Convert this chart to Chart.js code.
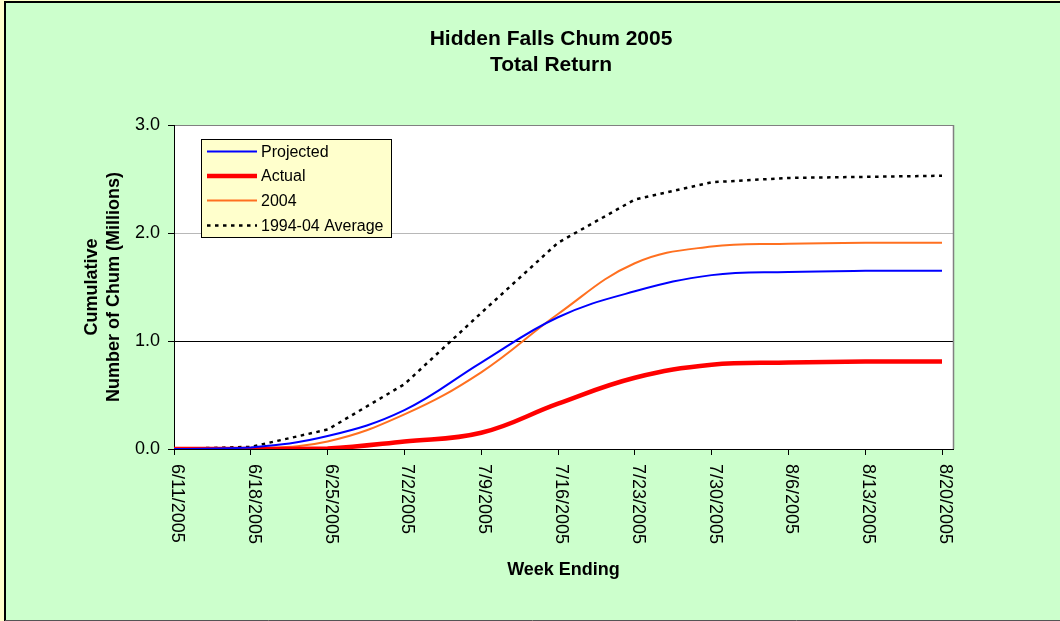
<!DOCTYPE html>
<html>
<head>
<meta charset="utf-8">
<script src="https://cdn.jsdelivr.net/npm/chart.js@4"></script>
<style>
  html, body { margin: 0; padding: 0; background: #ffffcc; }
  #wrap { width: 1060px; height: 621px; }
</style>
</head>
<body>
<div id="wrap"><canvas id="chumChart" width="1060" height="621"></canvas></div>
<script>
// === data ===
const weekLabels = ["6/11/2005", "6/18/2005", "6/25/2005", "7/2/2005", "7/9/2005", "7/16/2005",
    "7/23/2005", "7/30/2005", "8/6/2005", "8/13/2005", "8/20/2005"];
const weekDays = [0, 7, 14, 21, 28, 35, 42, 49, 56, 63, 70]; // days after 6/11
const projected = [0, 0.015, 0.12, 0.36, 0.80, 1.22, 1.46, 1.61, 1.64, 1.65, 1.65];
const actual = [0, 0, 0.005, 0.07, 0.15, 0.42, 0.66, 0.78, 0.80, 0.81, 0.81];
const year2004 = [0, 0.005, 0.07, 0.32, 0.71, 1.25, 1.72, 1.875, 1.90, 1.91, 1.91];
const average = [0, 0.02, 0.18, 0.60, 1.26, 1.91, 2.31, 2.47, 2.51, 2.52, 2.53];
const yTicks = [0, 1, 2, 3];

const pts = arr => arr.map((v, i) => ({ x: weekDays[i], y: v }));
const FONT = "'Liberation Sans', Arial, sans-serif";

// === background, frame, custom x labels and legend ===
const framePlugin = {
    id: "frame",
    beforeDraw(chart) {
        const { ctx, chartArea: a } = chart;
        ctx.save();
        ctx.fillStyle = "#ffffcc";
        ctx.fillRect(0, 0, chart.width, chart.height);
        ctx.fillStyle = "#ccffcc";
        ctx.fillRect(5, 2, chart.width - 5, 618);
        ctx.strokeStyle = "#000";
        ctx.lineWidth = 2;
        ctx.beginPath();
        ctx.moveTo(5, chart.height);
        ctx.lineTo(5, 2);
        ctx.lineTo(chart.width, 2);
        ctx.stroke();
        ctx.strokeStyle = "#555";
        ctx.lineWidth = 1;
        ctx.beginPath();
        ctx.moveTo(5, 620.5);
        ctx.lineTo(chart.width, 620.5);
        ctx.stroke();
        ctx.fillStyle = "#fff";
        ctx.fillRect(a.left, a.top, a.right - a.left, a.bottom - a.top);
        ctx.restore();
    },
    beforeDatasetsDraw(chart) {
        const { ctx, chartArea: a } = chart;
        ctx.save();
        ctx.strokeStyle = "#808080";
        ctx.lineWidth = 1.5;
        ctx.beginPath();
        ctx.moveTo(a.right + 0.5, a.top);
        ctx.lineTo(a.right + 0.5, a.bottom);
        ctx.stroke();
        ctx.restore();
    },
    afterDraw(chart) {
        const { ctx } = chart;
        const xs = chart.scales.x;
        ctx.save();
        // rotated week labels, reading top to bottom
        ctx.fillStyle = "#000";
        ctx.font = "18px " + FONT;
        ctx.textAlign = "left";
        ctx.textBaseline = "alphabetic";
        weekLabels.forEach((lab, i) => {
            const px = xs.getPixelForValue(weekDays[i]);
            ctx.save();
            ctx.translate(px - 2, 464);
            ctx.rotate(Math.PI / 2);
            ctx.fillText(lab, 0, 0);
            ctx.restore();
        });

        // legend box
        const bx = 201.5, by = 139.5, bw = 190, bh = 98;
        ctx.fillStyle = "#ffffcc";
        ctx.fillRect(bx, by, bw, bh);
        ctx.strokeStyle = "#000";
        ctx.lineWidth = 1;
        ctx.strokeRect(bx, by, bw, bh);
        const rows = [151.5, 176, 200.5, 225.5];
        ctx.font = "16px " + FONT;
        ctx.textBaseline = "middle";
        chart.data.datasets.forEach((ds, i) => {
            const y = rows[i];
            ctx.save();
            ctx.strokeStyle = ds.borderColor;
            ctx.lineWidth = ds.borderWidth;
            ctx.setLineDash(ds.borderDash || []);
            ctx.beginPath();
            ctx.moveTo(207, y);
            ctx.lineTo(257, y);
            ctx.stroke();
            ctx.restore();
            ctx.fillStyle = "#000";
            ctx.fillText(ds.label, 261, y + 1);
        });
        ctx.restore();
    }
};

const ctx = document.getElementById("chumChart").getContext("2d");
new Chart(ctx, {
    type: "line",
    data: {
        datasets: [
            { label: "Projected", data: pts(projected), borderColor: "#0000ff", borderWidth: 2, tension: 0.4 },
            { label: "Actual", data: pts(actual), borderColor: "#ff0000", borderWidth: 4.5, tension: 0.4 },
            { label: "2004", data: pts(year2004), borderColor: "#ff7020", borderWidth: 2, tension: 0.4 },
            { label: "1994-04 Average", data: pts(average), borderColor: "#000000", borderWidth: 2.5,
              borderDash: [3.5, 4.5], tension: 0 }
        ]
    },
    options: {
        responsive: false,
        animation: false,
        layout: { padding: { left: 42, top: 0, right: 0, bottom: 0 } },
        elements: { point: { radius: 0 } },
        plugins: {
            legend: { display: false },
            tooltip: { enabled: false },
            title: {
                display: true,
                text: ["Hidden Falls Chum 2005", "Total Return"],
                color: "#000",
                font: { family: FONT, size: 21, weight: "bold", lineHeight: 26 / 21 },
                padding: { top: 26, bottom: 47 }
            }
        },
        scales: {
            x: {
                type: "linear",
                min: 0,
                max: 71,
                afterBuildTicks: s => { s.ticks = weekDays.map(v => ({ value: v })); },
                afterFit: s => { s.height = 172; },
                ticks: { display: false },
                grid: { drawOnChartArea: false, drawTicks: true, tickLength: 6, tickColor: "#000" },
                border: { color: "#000", width: 1 },
                title: {
                    display: true,
                    text: "Week Ending",
                    color: "#000",
                    font: { family: FONT, size: 18, weight: "bold", lineHeight: 1.2 },
                    padding: { top: 0, bottom: 40.5 }
                }
            },
            y: {
                min: 0,
                max: 3,
                afterBuildTicks: s => { s.ticks = yTicks.map(v => ({ value: v })); },
                afterFit: s => { s.width = 132; },
                ticks: {
                    color: "#000",
                    padding: 8,
                    font: { family: FONT, size: 18 },
                    callback: v => v.toFixed(1)
                },
                grid: {
                    color: c => c.tick.value === 2 ? "#b8b8b8" : c.tick.value === 3 ? "#808080" : "#000",
                    tickLength: 6,
                    tickColor: "#000",
                    lineWidth: 1
                },
                border: { color: "#000", width: 1 },
                title: {
                    display: true,
                    text: ["Cumulative", "Number of Chum (Millions)"],
                    color: "#000",
                    font: { family: FONT, size: 18, weight: "bold", lineHeight: 22 / 18 },
                    padding: { top: 38.7, bottom: 0 }
                }
            },
            // empty right-hand box that keeps the plot's right edge where the reference has it
            gap: {
                position: "right",
                min: 0,
                max: 1,
                afterFit: s => { s.width = 107; },
                ticks: { display: false },
                grid: { display: false },
                border: { display: false }
            }
        }
    },
    plugins: [framePlugin]
});
</script>
</body>
</html>
